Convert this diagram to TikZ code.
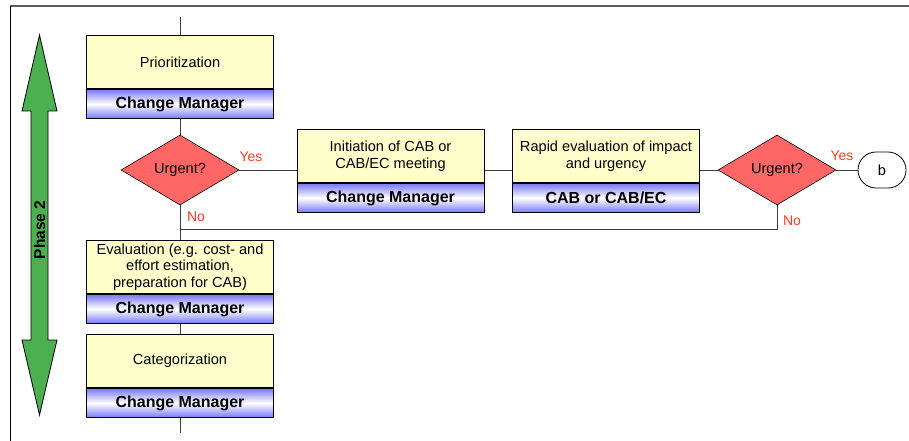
\documentclass[tikz,border=0pt]{standalone}
\usepackage{fontspec}
\setmainfont{Liberation Sans}
\usetikzlibrary{shapes.geometric,shapes.misc}
\definecolor{boxyellow}{RGB}{255,255,204}
\definecolor{boxblue}{RGB}{120,120,250}
\definecolor{diafill}{RGB}{255,102,102}
\definecolor{phasegreen}{RGB}{76,175,80}
\definecolor{labelred}{RGB}{255,60,30}
\definecolor{linegray}{RGB}{60,60,60}
\tikzset{
  txt/.style={font=\fontsize{14.6}{16.5}\selectfont},
  taskbox/.style={txt, draw=black, line width=1pt, fill=boxyellow, minimum width=187pt, minimum height=53pt, inner sep=0pt, align=center, anchor=north},
  rolebox/.style={draw=black, line width=1pt, top color=boxblue, bottom color=boxblue, middle color=white, minimum width=187pt, minimum height=29pt, inner sep=0pt, anchor=north, font=\fontsize{16}{18}\selectfont\bfseries},
  decision/.style={txt, diamond, draw=black, line width=0.6pt, fill=diafill, minimum width=118pt, minimum height=70pt, aspect=1.69, inner sep=0pt},
  conn/.style={draw=linegray, line width=1pt},
  yn/.style={font=\fontsize{14}{16}\selectfont, text=labelred, inner sep=0pt},
}
\begin{document}
\begin{tikzpicture}[x=1pt,y=-1pt]
\useasboundingbox (0,0) rectangle (909,441);
% frame
\draw[gray!70!black, line width=1.6pt] (10,6) -- (910,6);
\draw[black, line width=1pt] (10,6) -- (10,442);
% phase arrow
\draw[black, line width=0.8pt, fill=phasegreen]
  (31,111) -- (22,111) -- (39.5,35) -- (57,111) -- (48,111) -- (48,340) -- (57,340) -- (39.5,415) -- (22,340) -- (31,340) -- cycle;
\node[rotate=90, font=\fontsize{15.5}{18}\selectfont\bfseries] (phase) at (39.5,230) {Phase 2};
% boxes
\node[taskbox] (prio) at (180,35) {Prioritization};
\node[rolebox] (prioR) at (prio.south) {Change Manager};
\node[decision] (d1) at (180,170) {Urgent?};
\node[taskbox] (init) at (390.5,129) {Initiation of CAB or\\CAB/EC meeting};
\node[rolebox] (initR) at (init.south) {Change Manager};
\node[taskbox] (rapid) at (606,129) {Rapid evaluation of impact\\and urgency};
\node[rolebox] (rapidR) at (rapid.south) {CAB or CAB/EC};
\node[decision] (d2) at (777,170) {Urgent?};
\node[txt, rounded rectangle, draw=black, line width=0.8pt, fill=white, minimum width=48pt, minimum height=36pt, inner sep=0pt] (b) at (882,170) {b};
\node[taskbox] (eval) at (180,240) {Evaluation (e.g. cost- and\\effort estimation,\\preparation for CAB)};
\node[rolebox] (evalR) at (eval.south) {Change Manager};
\node[taskbox] (cat) at (180,334) {Categorization};
\node[rolebox] (catR) at (cat.south) {Change Manager};
% coordinates
\coordinate (topend) at (180,17);
\coordinate (botend) at (180,433);
\coordinate (join) at (180,229);
% connectors
\draw[conn] (topend) -- (prio.north);
\draw[conn] (prioR.south) -- (d1.north);
\draw[conn] (d1.south) -- (eval.north);
\draw[conn] (d1.east) -- (d1.east -| init.west);
\draw[conn] (d1.east -| init.east) -- (d1.east -| rapid.west);
\draw[conn] (d1.east -| rapid.east) -- (d2.west);
\draw[conn] (d2.east) -- (b.west);
\draw[conn] (d2.south) |- (join);
\draw[conn] (evalR.south) -- (cat.north);
\draw[conn] (catR.south) -- (botend);
% labels
\node[yn] (y1) at (251,157) {Yes};
\node[yn] (n1) at (196,217) {No};
\node[yn] (y2) at (842,156) {Yes};
\node[yn] (n2) at (792,221) {No};
\end{tikzpicture}
\end{document}
